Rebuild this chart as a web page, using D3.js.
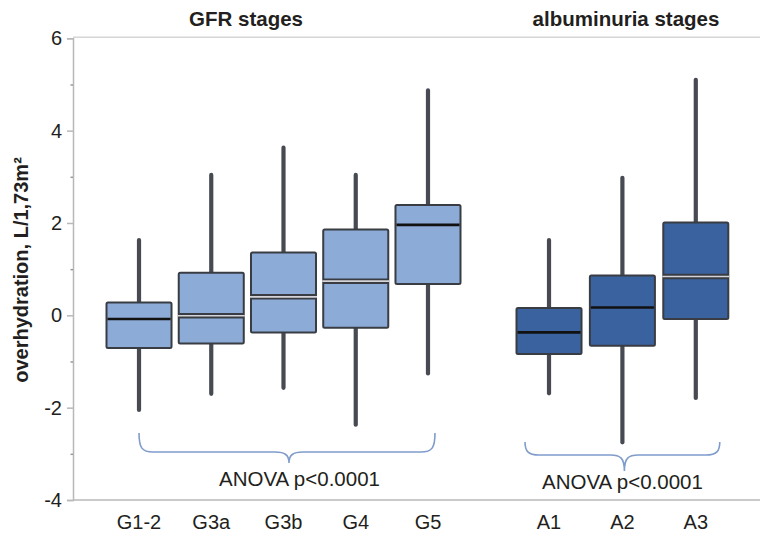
<!DOCTYPE html>
<html>
<head>
<meta charset="utf-8">
<script src="https://cdn.jsdelivr.net/npm/d3@7/dist/d3.min.js"></script>
<style>
  html, body { margin: 0; padding: 0; background: #fff; }
  svg { display: block; font-family: "Liberation Sans", Arial, sans-serif; }
</style>
</head>
<body>
<svg id="chart" width="760" height="538"></svg>
<script>
// ---- data ----
const gfrCategories = ["G1-2", "G3a", "G3b", "G4", "G5"];
const gfrMin    = [-2.05, -1.70, -1.57, -2.37, -1.26];
const gfrQ1     = [-0.71, -0.61, -0.37, -0.27, 0.68];
const gfrMedian = [-0.08, -0.01, 0.40, 0.74, 1.96];
const gfrQ3     = [0.28, 0.92, 1.36, 1.86, 2.39];
const gfrMax    = [1.63, 3.04, 3.63, 3.04, 4.87];
const gfrMedianStyle = ["line", "split", "split", "split", "line"];

const albCategories = ["A1", "A2", "A3"];
const albMin    = [-1.69, -2.75, -1.79];
const albQ1     = [-0.84, -0.66, -0.08];
const albMedian = [-0.37, 0.17, 0.84];
const albQ3     = [0.16, 0.86, 2.01];
const albMax    = [1.63, 2.98, 5.10];
const albMedianStyle = ["line", "line", "split"];

const yTicks = [-4, -2, 0, 2, 4, 6];
const yMinorTicks = [-3, -1, 1, 3, 5];
const groupTitles = ["GFR stages", "albuminuria stages"];
const statLabels = ["ANOVA p<0.0001", "ANOVA p<0.0001"];
const yLabel = "overhydration, L/1,73m²";

// ---- layout ----
const svg = d3.select("#chart");
const axisX = 73, plotTop = 38.3, plotBottom = 500;
const y = d3.scaleLinear().domain([-4, 6]).range([plotBottom, plotTop]);
const xG = d3.scaleBand().domain(gfrCategories).range([106.5, 460.5]).paddingInner(0.1).paddingOuter(0);
const xA = d3.scaleBand().domain(albCategories).range([516.5, 728.3]).paddingInner(0.114).paddingOuter(0);

const axisColor = "#b8b8b8";
const textColor = "#231f20";
const fontFam = "'Liberation Sans', Arial, sans-serif";
const tickFont = "20px";

// frame lines (top and bottom)
svg.append("line").attr("x1", axisX).attr("x2", 760).attr("y1", plotTop - 1).attr("y2", plotTop - 1)
  .attr("stroke", "#d6d6d6").attr("stroke-width", 1.5);
svg.append("line").attr("x1", axisX).attr("x2", 760).attr("y1", plotBottom).attr("y2", plotBottom)
  .attr("stroke", axisColor).attr("stroke-width", 1.5);

// y axis
const yAxis = d3.axisLeft(y).tickValues(yTicks).tickSize(6).tickPadding(5).tickFormat(d => String(d));
const gy = svg.append("g").attr("transform", `translate(${axisX},0)`).call(yAxis);
gy.select(".domain").attr("stroke", axisColor).attr("stroke-width", 1.5);
gy.selectAll(".tick line").attr("stroke", axisColor).attr("stroke-width", 1.5);
gy.selectAll(".tick text").attr("fill", textColor).style("font-size", tickFont).style("font-family", fontFam);
const yMinor = d3.axisLeft(y).tickValues(yMinorTicks).tickSize(2.5).tickFormat("");
const gym = svg.append("g").attr("transform", `translate(${axisX},0)`).call(yMinor);
gym.select(".domain").remove();
gym.selectAll(".tick line").attr("stroke", "#999").attr("stroke-width", 1.5);

// y label
svg.append("text")
  .attr("transform", `translate(28,${270}) rotate(-90)`)
  .attr("text-anchor", "middle")
  .attr("fill", textColor)
  .style("font-size", "20px").style("font-weight", "bold")
  .text(yLabel);

// x axes (labels only)
function xLabels(scale) {
  const ax = d3.axisBottom(scale).tickSize(0).tickPadding(0);
  const g = svg.append("g").attr("transform", `translate(0,${plotBottom + 15})`).call(ax);
  g.select(".domain").remove();
  g.selectAll(".tick text").attr("fill", textColor).style("font-size", tickFont).style("font-family", fontFam);
}
xLabels(xG);
xLabels(xA);

// boxes
function drawGroup(cats, scale, mn, q1, med, q3, mx, mstyle, fill) {
  const data = cats.map((c, i) => ({ c, mn: mn[i], q1: q1[i], med: med[i], q3: q3[i], mx: mx[i], ms: mstyle[i] }));
  const bw = scale.bandwidth();
  const g = svg.append("g");
  const box = g.selectAll("g.box").data(data).join("g").attr("class", "box")
    .attr("transform", d => `translate(${scale(d.c)},0)`);
  box.append("line").attr("x1", bw / 2).attr("x2", bw / 2)
    .attr("y1", d => y(d.mx)).attr("y2", d => y(d.q3))
    .attr("stroke", "#474a52").attr("stroke-width", 4.2).attr("stroke-linecap", "round");
  box.append("line").attr("x1", bw / 2).attr("x2", bw / 2)
    .attr("y1", d => y(d.q1)).attr("y2", d => y(d.mn))
    .attr("stroke", "#474a52").attr("stroke-width", 4.2).attr("stroke-linecap", "round");
  box.append("rect").attr("x", 0).attr("width", bw)
    .attr("y", d => y(d.q3)).attr("height", d => y(d.q1) - y(d.q3))
    .attr("rx", 1.5)
    .attr("fill", fill).attr("stroke", "#393c43").attr("stroke-width", 2);
  box.filter(d => d.ms === "line").append("line")
    .attr("x1", 1).attr("x2", bw - 1).attr("y1", d => y(d.med)).attr("y2", d => y(d.med))
    .attr("stroke", "#111").attr("stroke-width", 2.6);
  const sp = box.filter(d => d.ms === "split");
  sp.append("line")
    .attr("x1", 0).attr("x2", bw).attr("y1", d => y(d.med)).attr("y2", d => y(d.med))
    .attr("stroke", "#393c43").attr("stroke-width", 5.5);
  sp.append("line")
    .attr("x1", -1).attr("x2", bw + 1).attr("y1", d => y(d.med)).attr("y2", d => y(d.med))
    .attr("stroke", "#d4d4d8").attr("stroke-width", 1.6);
}
drawGroup(gfrCategories, xG, gfrMin, gfrQ1, gfrMedian, gfrQ3, gfrMax, gfrMedianStyle, "#8dabd7");
drawGroup(albCategories, xA, albMin, albQ1, albMedian, albQ3, albMax, albMedianStyle, "#3a629f");

// braces
function brace(x1, x2, top, mid, tip, tipX) {
  const r = 14, rc = 14;
  const p = d3.path();
  p.moveTo(x1, top);
  p.bezierCurveTo(x1, mid - 4, x1 + 3, mid, x1 + r, mid);
  p.lineTo(tipX - rc, mid);
  p.bezierCurveTo(tipX - 4, mid, tipX, mid + 3, tipX, tip);
  p.bezierCurveTo(tipX, mid + 3, tipX + 4, mid, tipX + rc, mid);
  p.lineTo(x2 - r, mid);
  p.bezierCurveTo(x2 - 3, mid, x2, mid - 4, x2, top);
  svg.append("path").attr("d", p.toString()).attr("fill", "none")
    .attr("stroke", "#7f9ccb").attr("stroke-width", 1.6);
}
const gC0 = xG(gfrCategories[0]) + xG.bandwidth() / 2;
const gC4 = xG(gfrCategories[4]) + xG.bandwidth() / 2;
brace(gC0, gC4 + 7, 433, 452, 463, (gC0 + gC4 + 7) / 2 + 2);
const aC0 = xA(albCategories[0]) + xA.bandwidth() / 2;
const aC2 = xA(albCategories[2]) + xA.bandwidth() / 2;
brace(aC0 - 24, aC2 + 24, 442, 455, 471, (aC0 + aC2) / 2 + 2);

// stat labels
svg.append("text").attr("x", (gC0 + gC4) / 2 + 16).attr("y", 486).attr("text-anchor", "middle")
  .attr("fill", textColor).style("font-size", "20.5px").text(statLabels[0]);
svg.append("text").attr("x", (aC0 + aC2) / 2).attr("y", 489).attr("text-anchor", "middle")
  .attr("fill", textColor).style("font-size", "20.5px").text(statLabels[1]);

// group titles
svg.append("text").attr("x", 246).attr("y", 26).attr("text-anchor", "middle")
  .attr("fill", textColor).style("font-size", "20.5px").style("font-weight", "bold").text(groupTitles[0]);
svg.append("text").attr("x", 626).attr("y", 26).attr("text-anchor", "middle")
  .attr("fill", textColor).style("font-size", "20.5px").style("font-weight", "bold").text(groupTitles[1]);
</script>
</body>
</html>
